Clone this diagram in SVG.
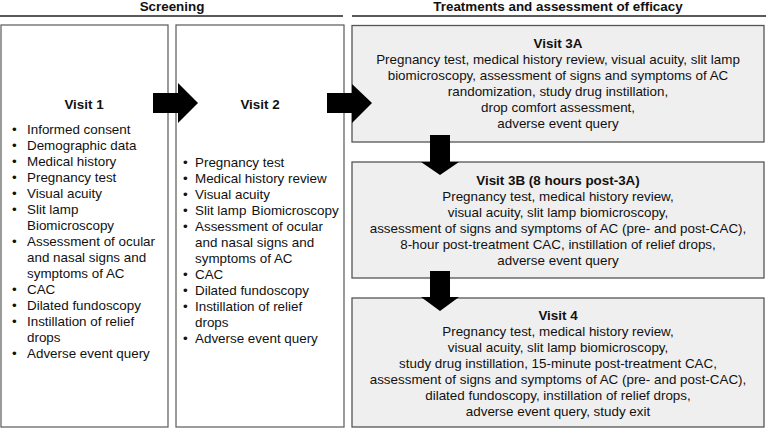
<svg xmlns="http://www.w3.org/2000/svg" width="766" height="430" viewBox="0 0 766 430">
<style>
text{font-family:"Liberation Sans",Arial,sans-serif;font-size:13.4px;fill:#111}
.b{font-weight:bold}
.c{text-anchor:middle}
.box{fill:#fff;stroke:#666;stroke-width:1.3}
.g{fill:#efefef;stroke:#555;stroke-width:1.3}
.hl{stroke:#222;stroke-width:1.3}
.arr{fill:#000}
</style>
<rect width="766" height="430" fill="#fff"/>
<g id="headers">
<text class="b c" x="172" y="11">Screening</text>
<line class="hl" x1="0" y1="16" x2="343" y2="16"/>
<text class="b c" x="558" y="11">Treatments and assessment of efficacy</text>
<line class="hl" x1="352" y1="16" x2="766" y2="16"/>
</g>
<g id="visit1">
<rect class="box" x="1" y="25" width="167" height="402"/>
<text class="b c" x="84" y="109">Visit 1</text>
<g>
<text x="12" y="134">•</text><text x="27" y="134">Informed consent</text>
<text x="12" y="150">•</text><text x="27" y="150">Demographic data</text>
<text x="12" y="166">•</text><text x="27" y="166">Medical history</text>
<text x="12" y="182">•</text><text x="27" y="182">Pregnancy test</text>
<text x="12" y="198">•</text><text x="27" y="198">Visual acuity</text>
<text x="12" y="214">•</text><text x="27" y="214">Slit lamp</text>
<text x="27" y="230">Biomicroscopy</text>
<text x="12" y="246">•</text><text x="27" y="246">Assessment of ocular</text>
<text x="27" y="262">and nasal signs and</text>
<text x="27" y="278">symptoms of AC</text>
<text x="12" y="294">•</text><text x="27" y="294">CAC</text>
<text x="12" y="310">•</text><text x="27" y="310">Dilated fundoscopy</text>
<text x="12" y="326">•</text><text x="27" y="326">Instillation of relief</text>
<text x="27" y="342">drops</text>
<text x="12" y="358">•</text><text x="27" y="358">Adverse event query</text>
</g>
</g>
<g id="visit2">
<rect class="box" x="176" y="25" width="168" height="402"/>
<text class="b c" x="260" y="109">Visit 2</text>
<g>
<text x="183" y="167">•</text><text x="195" y="167">Pregnancy test</text>
<text x="183" y="183">•</text><text x="195" y="183">Medical history review</text>
<text x="183" y="199">•</text><text x="195" y="199">Visual acuity</text>
<text x="183" y="215">•</text><text x="195" y="215">Slit lamp <tspan dx="1.5">Biomicroscopy</tspan></text>
<text x="183" y="231">•</text><text x="195" y="231">Assessment of ocular</text>
<text x="195" y="247">and nasal signs and</text>
<text x="195" y="263">symptoms of AC</text>
<text x="183" y="279">•</text><text x="195" y="279">CAC</text>
<text x="183" y="295">•</text><text x="195" y="295">Dilated fundoscopy</text>
<text x="183" y="311">•</text><text x="195" y="311">Instillation of relief</text>
<text x="195" y="327">drops</text>
<text x="183" y="343">•</text><text x="195" y="343">Adverse event query</text>
</g>
</g>
<g id="visit3a">
<rect class="g" x="352" y="25.5" width="412" height="116.5"/>
<text class="b c" x="558" y="48">Visit 3A</text>
<text class="c" x="558" y="64">Pregnancy test, medical history review, visual acuity, slit lamp</text>
<text class="c" x="558" y="80">biomicroscopy, assessment of signs and symptoms of AC</text>
<text class="c" x="558" y="96">randomization, study drug instillation,</text>
<text class="c" x="558" y="112">drop comfort assessment,</text>
<text class="c" x="558" y="128">adverse event query</text>
</g>
<g id="visit3b">
<rect class="g" x="352" y="162" width="412" height="116"/>
<text class="b c" x="558" y="185">Visit 3B (8 hours post-3A)</text>
<text class="c" x="558" y="201">Pregnancy test, medical history review,</text>
<text class="c" x="558" y="217">visual acuity, slit lamp biomicroscopy,</text>
<text class="c" x="558" y="233">assessment of signs and symptoms of AC (pre- and post-CAC),</text>
<text class="c" x="558" y="249">8-hour post-treatment CAC, instillation of relief drops,</text>
<text class="c" x="558" y="265">adverse event query</text>
</g>
<g id="visit4">
<rect class="g" x="352" y="298" width="412" height="129"/>
<text class="b c" x="558" y="320">Visit 4</text>
<text class="c" x="558" y="336">Pregnancy test, medical history review,</text>
<text class="c" x="558" y="352">visual acuity, slit lamp biomicroscopy,</text>
<text class="c" x="558" y="368">study drug instillation, 15-minute post-treatment CAC,</text>
<text class="c" x="558" y="384">assessment of signs and symptoms of AC (pre- and post-CAC),</text>
<text class="c" x="558" y="400">dilated fundoscopy, instillation of relief drops,</text>
<text class="c" x="558" y="416">adverse event query, study exit</text>
</g>
<g id="connectors">
<polygon class="arr" points="153,93 178,93 178,83 198,103 178,123 178,113 153,113"/>
<polygon class="arr" points="327,93 352,93 352,84 372,103 352,123 352,113 327,113"/>
<polygon class="arr" points="430,135 450,135 450,162 459,162 440,175 421,162 430,162"/>
<polygon class="arr" points="430,271 450,271 450,297 459,297 440,311 421,297 430,297"/>
</g>
</svg>
